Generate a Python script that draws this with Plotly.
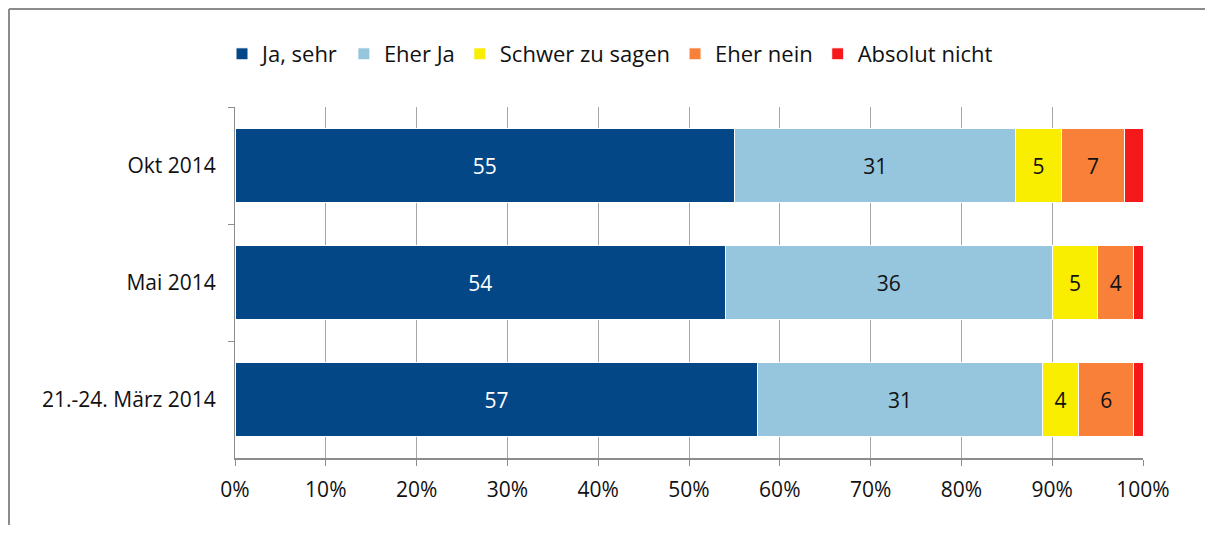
import plotly.graph_objects as go

categories = ["Okt 2014", "Mai 2014", "21.-24. März 2014"]
series_names = ["Ja, sehr", "Eher Ja", "Schwer zu sagen", "Eher nein", "Absolut nicht"]
ja_sehr = [55, 54, 57]
eher_ja = [31, 36, 31]
schwer = [5, 5, 4]
eher_nein = [7, 4, 6]
absolut_nicht = [2, 1, 1]
x_tick_vals = [0, 10, 20, 30, 40, 50, 60, 70, 80, 90, 100]
x_tick_text = ["0%", "10%", "20%", "30%", "40%", "50%", "60%", "70%", "80%", "90%", "100%"]

series_values = [ja_sehr, eher_ja, schwer, eher_nein, absolut_nicht]
colors = ["#034787", "#96C6DE", "#FAEE00", "#F98038", "#F5191C"]
label_colors = ["white", "#111111", "#111111", "#111111", "#111111"]
show_labels = [True, True, True, True, False]

FONT = "Open Sans"
FS = 21
LEG_FS = 22

fig = go.Figure()
for name, vals, col, lc, show in zip(series_names, series_values, colors, label_colors, show_labels):
    fig.add_trace(go.Bar(
        y=categories, x=vals, name=name, orientation="h",
        legendgroup=name,
        marker=dict(color=col, line=dict(color="white", width=1)),
        text=[str(v) for v in vals] if show else None,
        textposition="inside" if show else "none",
        insidetextanchor="middle",
        textfont=dict(color=lc, size=FS, family=FONT),
        textangle=0,
        hoverinfo="x+name",
    ))

# page has an 8px body margin; figure size/margins compensate for it
W, H = 1197, 517
L, R, T, B = 227, 62, 99, 67
pw, ph = W - L - R, H - T - B

def px_to_paper_x(px):
    return (px - L) / pw

def px_to_paper_y(py):
    return (H - B - py) / ph

frame_style = dict(color="#8C8C8C", width=2)

fig.update_layout(
    barmode="stack",
    barnorm="percent",
    bargap=0.36,
    width=W, height=H,
    margin=dict(l=L, r=R, t=T, b=B, pad=0),
    paper_bgcolor="white",
    plot_bgcolor="white",
    font=dict(family=FONT, size=FS, color="#111111"),
    legend=dict(
        orientation="h",
        x=px_to_paper_x(214), xanchor="left",
        y=px_to_paper_y(46), yanchor="middle",
        font=dict(size=LEG_FS, family=FONT, color="#111111"),
        itemwidth=30,
        traceorder="grouped",
        tracegroupgap=8,
        bgcolor="rgba(0,0,0,0)",
    ),
    xaxis=dict(
        range=[0, 100],
        tickvals=x_tick_vals, ticktext=x_tick_text,
        showgrid=True, gridcolor="#A6A6A6", gridwidth=1,
        showline=True, linecolor="#8C8C8C", linewidth=2,
        ticks="outside", ticklen=6, tickcolor="#8C8C8C",
        ticklabelstandoff=6,
        zeroline=False,
        tickfont=dict(size=FS, family=FONT, color="#111111"),
    ),
    yaxis=dict(
        autorange="reversed",
        showline=True, linecolor="#8C8C8C", linewidth=1,
        ticks="outside", ticklen=6, tickcolor="#8C8C8C",
        tickson="boundaries",
        ticklabelstandoff=14,
        showgrid=False,
        tickfont=dict(size=FS, family=FONT, color="#111111"),
    ),
    shapes=[
        dict(type="line", xref="paper", yref="paper",
             x0=px_to_paper_x(1), x1=px_to_paper_x(W + 10),
             y0=px_to_paper_y(1), y1=px_to_paper_y(1),
             line=frame_style, layer="below"),
        dict(type="line", xref="paper", yref="paper",
             x0=px_to_paper_x(1), x1=px_to_paper_x(1),
             y0=px_to_paper_y(1), y1=px_to_paper_y(H + 10),
             line=frame_style, layer="below"),
    ],
)

fig.write_html("out.html", config={"displayModeBar": False})
